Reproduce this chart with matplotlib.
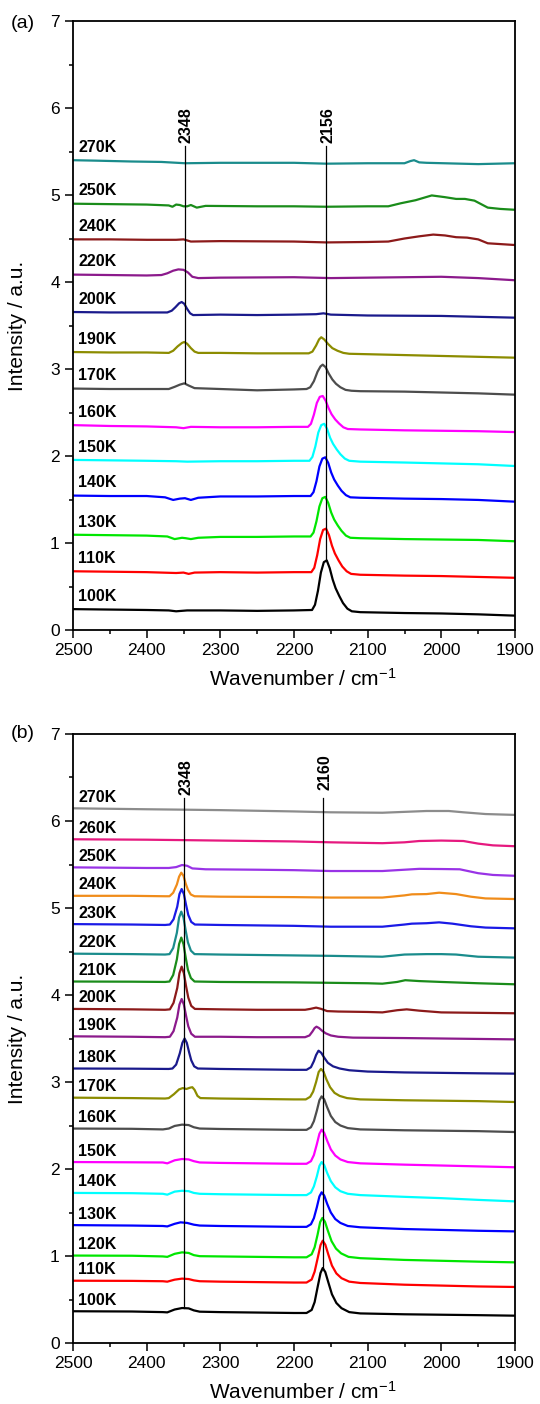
import matplotlib
matplotlib.use("Agg")
import matplotlib.pyplot as plt
from matplotlib.ticker import MultipleLocator

plt.rcParams['font.family'] = ['Liberation Sans', 'DejaVu Sans']
plt.rcParams['mathtext.default'] = 'regular'

# ---- panel (a) ----
temps_a = ['100K', '110K', '130K', '140K', '150K', '160K', '170K',
           '190K', '200K', '220K', '240K', '250K', '270K']
colors_a = ['#000000', '#ff0000', '#00e600', '#0000ff', '#00ffff', '#ff00ff', '#4d4d4d',
            '#8c8c00', '#1a1a8c', '#8c1a8c', '#8c1a1a', '#1a8c1a', '#1a8c8c']
spectra_a = [
    [(2500, 0.24), (2450, 0.235), (2400, 0.23), (2370, 0.225), (2360, 0.215), (2345, 0.225), (2300, 0.225),
     (2250, 0.22), (2200, 0.225), (2175.5, 0.23), (2171.5, 0.29), (2167.5, 0.45), (2163.5, 0.66), (2159.5, 0.78),
     (2155.5, 0.80), (2151.5, 0.71), (2147.5, 0.58), (2143.5, 0.48), (2138.5, 0.39), (2133.5, 0.31),
     (2127.5, 0.245), (2121.5, 0.215), (2110, 0.205), (2050, 0.195), (2000, 0.19), (1950, 0.18), (1900, 0.165)],
    [(2500, 0.675), (2450, 0.67), (2400, 0.665), (2360, 0.655), (2350, 0.66), (2343, 0.645), (2335, 0.66),
     (2300, 0.665), (2250, 0.66), (2200, 0.665), (2176.5, 0.665), (2172.5, 0.715), (2168.5, 0.86), (2164.5, 1.045),
     (2160.5, 1.15), (2156.5, 1.165), (2152.5, 1.09), (2148.5, 0.97), (2144.5, 0.88), (2139.5, 0.80),
     (2134.5, 0.73), (2128.5, 0.675), (2122.5, 0.645), (2110, 0.635), (2050, 0.625), (2000, 0.62), (1950, 0.61),
     (1900, 0.60)],
    [(2500, 1.095), (2450, 1.09), (2400, 1.085), (2372, 1.075), (2362, 1.045), (2352, 1.06), (2347, 1.055),
     (2340, 1.045), (2330, 1.06), (2300, 1.07), (2250, 1.07), (2200, 1.075), (2177.5, 1.075), (2173.5, 1.12),
     (2169.5, 1.25), (2165.5, 1.42), (2161.5, 1.515), (2157.5, 1.53), (2153.5, 1.46), (2149.5, 1.35),
     (2145.5, 1.27), (2140.5, 1.20), (2135.5, 1.14), (2129.5, 1.085), (2123.5, 1.06), (2110, 1.055),
     (2050, 1.045), (2000, 1.04), (1950, 1.035), (1900, 1.02)],
    [(2500, 1.545), (2450, 1.54), (2400, 1.54), (2375, 1.525), (2364, 1.495), (2355, 1.51), (2348, 1.515),
     (2340, 1.495), (2330, 1.52), (2300, 1.535), (2250, 1.535), (2200, 1.54), (2177.5, 1.54), (2173.5, 1.585),
     (2169.5, 1.71), (2165.5, 1.88), (2161.5, 1.97), (2157.5, 1.985), (2153.5, 1.92), (2149.5, 1.81),
     (2145.5, 1.73), (2140.5, 1.66), (2135.5, 1.60), (2129.5, 1.55), (2123.5, 1.525), (2110, 1.52),
     (2050, 1.51), (2000, 1.505), (1950, 1.495), (1900, 1.475)],
    [(2500, 1.955), (2450, 1.95), (2400, 1.945), (2360, 1.94), (2345, 1.935), (2300, 1.94), (2250, 1.94),
     (2200, 1.945), (2179, 1.945), (2175, 1.99), (2171, 2.11), (2167, 2.27), (2163, 2.355), (2159, 2.37),
     (2155, 2.31), (2151, 2.21), (2147, 2.14), (2142, 2.075), (2137, 2.02), (2131, 1.97), (2125, 1.945),
     (2110, 1.935), (2050, 1.925), (2000, 1.915), (1950, 1.905), (1900, 1.885)],
    [(2500, 2.355), (2450, 2.345), (2400, 2.34), (2360, 2.33), (2350, 2.32), (2340, 2.335), (2300, 2.33),
     (2250, 2.33), (2200, 2.335), (2181, 2.335), (2177, 2.37), (2173, 2.475), (2169, 2.61), (2165, 2.68),
     (2161, 2.69), (2157, 2.635), (2153, 2.55), (2149, 2.48), (2144, 2.42), (2139, 2.375), (2133, 2.33),
     (2127, 2.31), (2110, 2.305), (2050, 2.295), (2000, 2.29), (1950, 2.285), (1900, 2.275)],
    [(2500, 2.775), (2450, 2.77), (2400, 2.77), (2370, 2.77), (2362, 2.795), (2355, 2.82), (2349, 2.835),
     (2343, 2.81), (2335, 2.78), (2300, 2.77), (2250, 2.755), (2200, 2.765), (2183, 2.77), (2178, 2.79),
     (2173, 2.86), (2168, 2.97), (2164, 3.03), (2161, 3.05), (2157, 3.02), (2153, 2.95), (2148, 2.88),
     (2143, 2.83), (2137, 2.79), (2130, 2.76), (2122, 2.75), (2110, 2.745), (2050, 2.74), (2000, 2.73),
     (1950, 2.72), (1900, 2.705)],
    [(2500, 3.195), (2450, 3.19), (2400, 3.19), (2370, 3.185), (2364, 3.21), (2358, 3.26), (2352, 3.30),
     (2349, 3.31), (2345, 3.29), (2340, 3.24), (2335, 3.20), (2330, 3.185), (2300, 3.185), (2250, 3.18),
     (2200, 3.18), (2180, 3.18), (2175, 3.20), (2170, 3.27), (2166, 3.34), (2163, 3.365), (2159, 3.34),
     (2154, 3.29), (2148, 3.24), (2141, 3.21), (2133, 3.185), (2125, 3.175), (2100, 3.17), (2050, 3.16),
     (2000, 3.15), (1950, 3.14), (1900, 3.13)],
    [(2500, 3.655), (2450, 3.65), (2400, 3.65), (2372, 3.65), (2366, 3.67), (2361, 3.71), (2356, 3.755),
     (2352.5, 3.77), (2349, 3.75), (2345, 3.69), (2341, 3.64), (2337, 3.62), (2300, 3.625), (2250, 3.62),
     (2200, 3.625), (2170, 3.63), (2160, 3.64), (2150, 3.625), (2100, 3.615), (2000, 3.61), (1950, 3.60),
     (1900, 3.59)],
    [(2500, 4.085), (2450, 4.08), (2400, 4.075), (2380, 4.08), (2372, 4.10), (2364, 4.13), (2357, 4.145),
     (2350, 4.14), (2344, 4.11), (2338, 4.06), (2330, 4.045), (2300, 4.05), (2200, 4.055), (2150, 4.045),
     (2050, 4.055), (2000, 4.06), (1950, 4.045), (1900, 4.02)],
    [(2500, 4.49), (2450, 4.49), (2400, 4.485), (2360, 4.485), (2350, 4.49), (2340, 4.465), (2300, 4.47),
     (2200, 4.465), (2156, 4.455), (2100, 4.46), (2072, 4.465), (2050, 4.50), (2030, 4.525), (2011, 4.545),
     (1995, 4.535), (1980, 4.515), (1965, 4.51), (1950, 4.49), (1937, 4.445), (1900, 4.425)],
    [(2500, 4.90), (2450, 4.895), (2400, 4.89), (2370, 4.88), (2365, 4.865), (2360, 4.89), (2355, 4.885),
     (2350, 4.87), (2345, 4.87), (2340, 4.885), (2332, 4.855), (2320, 4.875), (2250, 4.87), (2200, 4.87),
     (2156, 4.865), (2100, 4.87), (2072, 4.87), (2055, 4.905), (2035, 4.94), (2013, 4.995), (1995, 4.975),
     (1980, 4.955), (1968, 4.955), (1955, 4.935), (1937, 4.855), (1920, 4.84), (1900, 4.83)],
    [(2500, 5.40), (2470, 5.395), (2420, 5.385), (2380, 5.38), (2348, 5.365), (2300, 5.37), (2200, 5.37),
     (2156, 5.36), (2100, 5.365), (2050, 5.365), (2042, 5.39), (2037, 5.40), (2030, 5.375), (2020, 5.37),
     (1950, 5.355), (1900, 5.365)],
]
mark_wn_a = [2348, 2156]
mark_low_a = [2.835, 0.80]
mark_top_a = 5.56

# ---- panel (b) ----
temps_b = ['100K', '110K', '120K', '130K', '140K', '150K', '160K', '170K', '180K',
           '190K', '200K', '210K', '220K', '230K', '240K', '250K', '260K', '270K']
colors_b = ['#000000', '#ff0000', '#00e600', '#0000ff', '#00ffff', '#ff00ff', '#4d4d4d', '#8c8c00', '#1a1a8c',
            '#8c1a8c', '#8c1a1a', '#1a8c1a', '#1a8c8c', '#1a1ae6', '#f08c1a', '#9933e6', '#e6197f', '#8c8c8c']
spectra_b = [
    [(2500, 0.365), (2420, 0.362), (2378, 0.355), (2372, 0.352), (2362, 0.385), (2352, 0.402), (2343, 0.398),
     (2336, 0.375), (2328, 0.36), (2300, 0.355), (2250, 0.35), (2200, 0.345), (2183, 0.345), (2176, 0.38),
     (2172, 0.47), (2168, 0.64), (2164, 0.805), (2161, 0.862), (2157.5, 0.815), (2153.5, 0.70), (2148.5, 0.56),
     (2142.5, 0.46), (2135.5, 0.40), (2125, 0.355), (2110, 0.34), (2050, 0.33), (2000, 0.325), (1950, 0.32),
     (1900, 0.314)],
    [(2500, 0.716), (2420, 0.714), (2378, 0.71), (2372, 0.705), (2362, 0.728), (2352, 0.74), (2343, 0.735),
     (2336, 0.72), (2328, 0.71), (2300, 0.705), (2250, 0.70), (2200, 0.695), (2183, 0.695), (2176, 0.73),
     (2172, 0.82), (2168, 0.97), (2164, 1.125), (2161, 1.176), (2157.5, 1.13), (2153.5, 1.02), (2148.5, 0.89),
     (2142.5, 0.80), (2135.5, 0.745), (2125, 0.705), (2110, 0.69), (2050, 0.67), (2000, 0.66), (1950, 0.65),
     (1900, 0.644)],
    [(2500, 1.005), (2420, 1.003), (2378, 0.995), (2372, 0.99), (2362, 1.025), (2352, 1.042), (2343, 1.035),
     (2336, 1.01), (2328, 0.998), (2300, 0.995), (2250, 0.99), (2200, 0.985), (2183, 0.985), (2176, 1.02),
     (2172, 1.10), (2168, 1.245), (2164.5, 1.39), (2161.5, 1.437), (2158, 1.395), (2154, 1.29), (2149, 1.17),
     (2143, 1.085), (2136, 1.03), (2126, 0.99), (2110, 0.975), (2050, 0.955), (2000, 0.945), (1950, 0.935),
     (1900, 0.927)],
    [(2500, 1.355), (2420, 1.35), (2378, 1.345), (2372, 1.34), (2362, 1.37), (2354, 1.387), (2345, 1.38),
     (2336, 1.36), (2328, 1.35), (2300, 1.345), (2250, 1.34), (2200, 1.335), (2183, 1.335), (2177, 1.365),
     (2173, 1.435), (2169, 1.56), (2165.5, 1.685), (2162.5, 1.732), (2159, 1.695), (2155, 1.60), (2150, 1.50),
     (2144, 1.425), (2137, 1.38), (2127, 1.345), (2110, 1.33), (2050, 1.31), (2000, 1.30), (1950, 1.29),
     (1900, 1.283)],
    [(2500, 1.725), (2420, 1.722), (2378, 1.715), (2372, 1.705), (2362, 1.74), (2352, 1.75), (2343, 1.745),
     (2336, 1.725), (2328, 1.715), (2300, 1.71), (2250, 1.705), (2200, 1.70), (2183, 1.70), (2177, 1.73),
     (2173, 1.80), (2169, 1.915), (2165.5, 2.035), (2162.5, 2.08), (2159, 2.045), (2155, 1.955), (2150, 1.86),
     (2144, 1.79), (2137, 1.745), (2127, 1.715), (2110, 1.70), (2050, 1.68), (2000, 1.665), (1950, 1.645),
     (1900, 1.628)],
    [(2500, 2.08), (2420, 2.077), (2378, 2.075), (2372, 2.065), (2362, 2.10), (2352, 2.115), (2343, 2.11),
     (2336, 2.09), (2328, 2.075), (2300, 2.07), (2250, 2.065), (2200, 2.06), (2183, 2.06), (2177, 2.09),
     (2173, 2.16), (2169, 2.285), (2165.5, 2.405), (2162.5, 2.452), (2159, 2.415), (2155, 2.325), (2150, 2.225),
     (2144, 2.155), (2137, 2.11), (2127, 2.08), (2110, 2.065), (2050, 2.05), (2000, 2.04), (1950, 2.03),
     (1900, 2.02)],
    [(2500, 2.465), (2420, 2.462), (2378, 2.455), (2370, 2.465), (2362, 2.495), (2352, 2.51), (2343, 2.505),
     (2336, 2.48), (2328, 2.465), (2300, 2.46), (2250, 2.455), (2200, 2.45), (2183, 2.45), (2177, 2.48),
     (2173, 2.55), (2169, 2.67), (2165.5, 2.79), (2162.5, 2.835), (2159, 2.80), (2155, 2.71), (2150, 2.61),
     (2144, 2.54), (2137, 2.50), (2127, 2.47), (2110, 2.455), (2050, 2.445), (2000, 2.44), (1950, 2.435),
     (1900, 2.425)],
    [(2500, 2.82), (2420, 2.815), (2375, 2.81), (2370, 2.815), (2363, 2.86), (2356, 2.915), (2351, 2.93),
     (2346, 2.92), (2341, 2.935), (2338, 2.94), (2335, 2.91), (2331, 2.84), (2327, 2.815), (2300, 2.81),
     (2250, 2.805), (2200, 2.80), (2184, 2.80), (2178, 2.83), (2174, 2.89), (2170, 3.00), (2166.5, 3.115),
     (2163.4, 3.15), (2160, 3.12), (2156, 3.03), (2151, 2.94), (2145, 2.875), (2138, 2.84), (2128, 2.815),
     (2110, 2.80), (2050, 2.79), (2000, 2.785), (1950, 2.78), (1900, 2.77)],
    [(2500, 3.155), (2420, 3.153), (2370, 3.15), (2365, 3.155), (2360, 3.20), (2355, 3.33), (2351.5, 3.45),
     (2348.5, 3.50), (2345.5, 3.45), (2342.5, 3.345), (2339.5, 3.25), (2335.5, 3.18), (2330.5, 3.155),
     (2300, 3.15), (2250, 3.145), (2200, 3.14), (2183, 3.14), (2177, 3.17), (2173, 3.24), (2170, 3.31),
     (2166.7, 3.36), (2163, 3.335), (2159, 3.28), (2154, 3.22), (2147, 3.18), (2138, 3.155), (2125, 3.135),
     (2100, 3.12), (2050, 3.11), (2000, 3.105), (1950, 3.10), (1900, 3.096)],
    [(2500, 3.525), (2420, 3.52), (2375, 3.515), (2368.5, 3.52), (2363.5, 3.585), (2358.5, 3.74),
     (2355.5, 3.89), (2352.5, 3.954), (2349.5, 3.89), (2346.5, 3.76), (2343.5, 3.64), (2339.5, 3.555),
     (2334.5, 3.52), (2300, 3.52), (2250, 3.515), (2200, 3.515), (2185, 3.515), (2179, 3.535), (2175, 3.58),
     (2172, 3.62), (2169.5, 3.636), (2166, 3.62), (2162, 3.59), (2157, 3.56), (2150, 3.535), (2140, 3.52),
     (2120, 3.51), (2050, 3.505), (2000, 3.50), (1950, 3.495), (1900, 3.49)],
    [(2500, 3.84), (2420, 3.835), (2375, 3.83), (2368.5, 3.835), (2363.5, 3.91), (2358.5, 4.08),
     (2355.5, 4.25), (2352.5, 4.326), (2349.5, 4.25), (2346.5, 4.10), (2343.5, 3.97), (2339.5, 3.875),
     (2334.5, 3.84), (2300, 3.835), (2250, 3.83), (2200, 3.83), (2185, 3.83), (2178, 3.84), (2170, 3.855),
     (2163, 3.84), (2155, 3.815), (2140, 3.81), (2100, 3.805), (2080, 3.80), (2060, 3.825), (2047, 3.835),
     (2030, 3.82), (2000, 3.80), (1950, 3.795), (1900, 3.79)],
    [(2500, 4.155), (2420, 4.153), (2375, 4.15), (2369, 4.155), (2364, 4.23), (2359, 4.41), (2356, 4.585),
     (2353, 4.66), (2350, 4.585), (2347, 4.43), (2344, 4.29), (2340, 4.195), (2335, 4.155), (2300, 4.15),
     (2200, 4.145), (2150, 4.14), (2100, 4.135), (2080, 4.13), (2060, 4.15), (2049, 4.17), (2030, 4.16),
     (2000, 4.15), (1950, 4.135), (1900, 4.123)],
    [(2500, 4.475), (2420, 4.47), (2375, 4.465), (2369, 4.47), (2364, 4.54), (2359, 4.715), (2356, 4.89),
     (2353, 4.958), (2350, 4.89), (2347, 4.74), (2344, 4.605), (2340, 4.51), (2335, 4.47), (2300, 4.465),
     (2200, 4.455), (2150, 4.45), (2080, 4.44), (2050, 4.465), (2020, 4.47), (2000, 4.47), (1980, 4.465),
     (1950, 4.44), (1900, 4.43)],
    [(2500, 4.815), (2420, 4.81), (2375, 4.805), (2368.5, 4.81), (2363.5, 4.87), (2358.5, 5.015),
     (2355.5, 5.16), (2352.5, 5.218), (2349.5, 5.16), (2346.5, 5.035), (2343.5, 4.92), (2339.5, 4.84),
     (2334.5, 4.81), (2300, 4.805), (2200, 4.795), (2150, 4.785), (2080, 4.785), (2050, 4.81), (2040, 4.82),
     (2020, 4.825), (2003, 4.835), (1985, 4.82), (1960, 4.79), (1940, 4.775), (1900, 4.766)],
    [(2500, 5.14), (2420, 5.14), (2375, 5.135), (2369, 5.135), (2364, 5.175), (2359, 5.27), (2356, 5.36),
     (2353, 5.406), (2350, 5.37), (2347, 5.28), (2344, 5.21), (2340, 5.155), (2335, 5.135), (2300, 5.13),
     (2200, 5.125), (2150, 5.12), (2080, 5.12), (2050, 5.145), (2040, 5.157), (2020, 5.16), (2003, 5.176),
     (1980, 5.16), (1960, 5.13), (1940, 5.11), (1900, 5.103)],
    [(2500, 5.467), (2400, 5.46), (2370, 5.46), (2360, 5.47), (2352, 5.494), (2345, 5.485), (2338, 5.455),
     (2320, 5.445), (2250, 5.44), (2200, 5.435), (2150, 5.425), (2080, 5.425), (2050, 5.44), (2030, 5.45),
     (2000, 5.448), (1975, 5.445), (1950, 5.40), (1930, 5.38), (1900, 5.37)],
    [(2500, 5.79), (2400, 5.785), (2348, 5.78), (2300, 5.775), (2200, 5.765), (2150, 5.755), (2080, 5.745),
     (2050, 5.755), (2030, 5.77), (2000, 5.775), (1970, 5.77), (1950, 5.74), (1930, 5.72), (1900, 5.71)],
    [(2500, 6.146), (2400, 6.135), (2348, 6.13), (2300, 6.125), (2200, 6.11), (2150, 6.10), (2080, 6.095),
     (2050, 6.105), (2020, 6.115), (1990, 6.115), (1970, 6.10), (1940, 6.08), (1900, 6.07)],
]
mark_wn_b = [2349, 2160]
mark_low_b = [0.40, 0.86]
mark_top_b = 6.27

fig = plt.figure(figsize=(5.4, 14.04), dpi=100)
ax_a = fig.add_axes([73 / 540, 1 - 630 / 1404, 442 / 540, 609 / 1404])
ax_b = fig.add_axes([73 / 540, 1 - 1343 / 1404, 442 / 540, 609 / 1404])


def draw_panel(ax, temps, colors, spectra, mark_wn, mark_low, mark_top, label_off, label_heights, tag, tag_y):
    for t, c, pts in zip(temps, colors, spectra):
        x, y = zip(*pts)
        ax.plot(x, y, color=c, lw=1.6, solid_joinstyle='round')
        ax.text(2493, y[0] + label_off, t, fontsize=11.5, fontweight='bold', ha='left', va='bottom')
    for wn, low, lh in zip(mark_wn, mark_low, label_heights):
        ax.plot([wn, wn], [low, mark_top], color='black', lw=0.9, zorder=5)
        ax.text(wn - 2, lh, str(wn) if wn != 2349 else '2348', rotation=90, fontsize=11.5,
                fontweight='bold', ha='center', va='bottom')
    ax.set_xlim(2500, 1900)
    ax.set_ylim(0, 7)
    ax.xaxis.set_major_locator(MultipleLocator(100))
    ax.xaxis.set_minor_locator(MultipleLocator(50))
    ax.yaxis.set_major_locator(MultipleLocator(1))
    ax.yaxis.set_minor_locator(MultipleLocator(0.5))
    ax.tick_params(which='both', direction='out', top=False, right=False, width=1.1, labelsize=12.5, pad=4)
    ax.tick_params(which='major', length=5.5)
    ax.tick_params(which='minor', length=3)
    for s in ax.spines.values():
        s.set_linewidth(1.3)
    ax.set_xlabel('Wavenumber / cm$^{-1}$', fontsize=15)
    ax.set_ylabel('Intensity / a.u.', fontsize=15)
    ax.xaxis.set_label_coords(0.52, -0.062)
    ax.yaxis.set_label_coords(-0.104, 0.5)
    fig.text(23 / 540, tag_y, tag, fontsize=14, ha='center', va='center')


draw_panel(ax_a, temps_a, colors_a, spectra_a, mark_wn_a, mark_low_a, mark_top_a, 0.06,
           [5.60, 5.60], '(a)', 1 - 23 / 1404)
draw_panel(ax_b, temps_b, colors_b, spectra_b, mark_wn_b, mark_low_b, mark_top_b, 0.04,
           [6.30, 6.355], '(b)', 1 - 733 / 1404)

fig.savefig('out.png', dpi=100)
